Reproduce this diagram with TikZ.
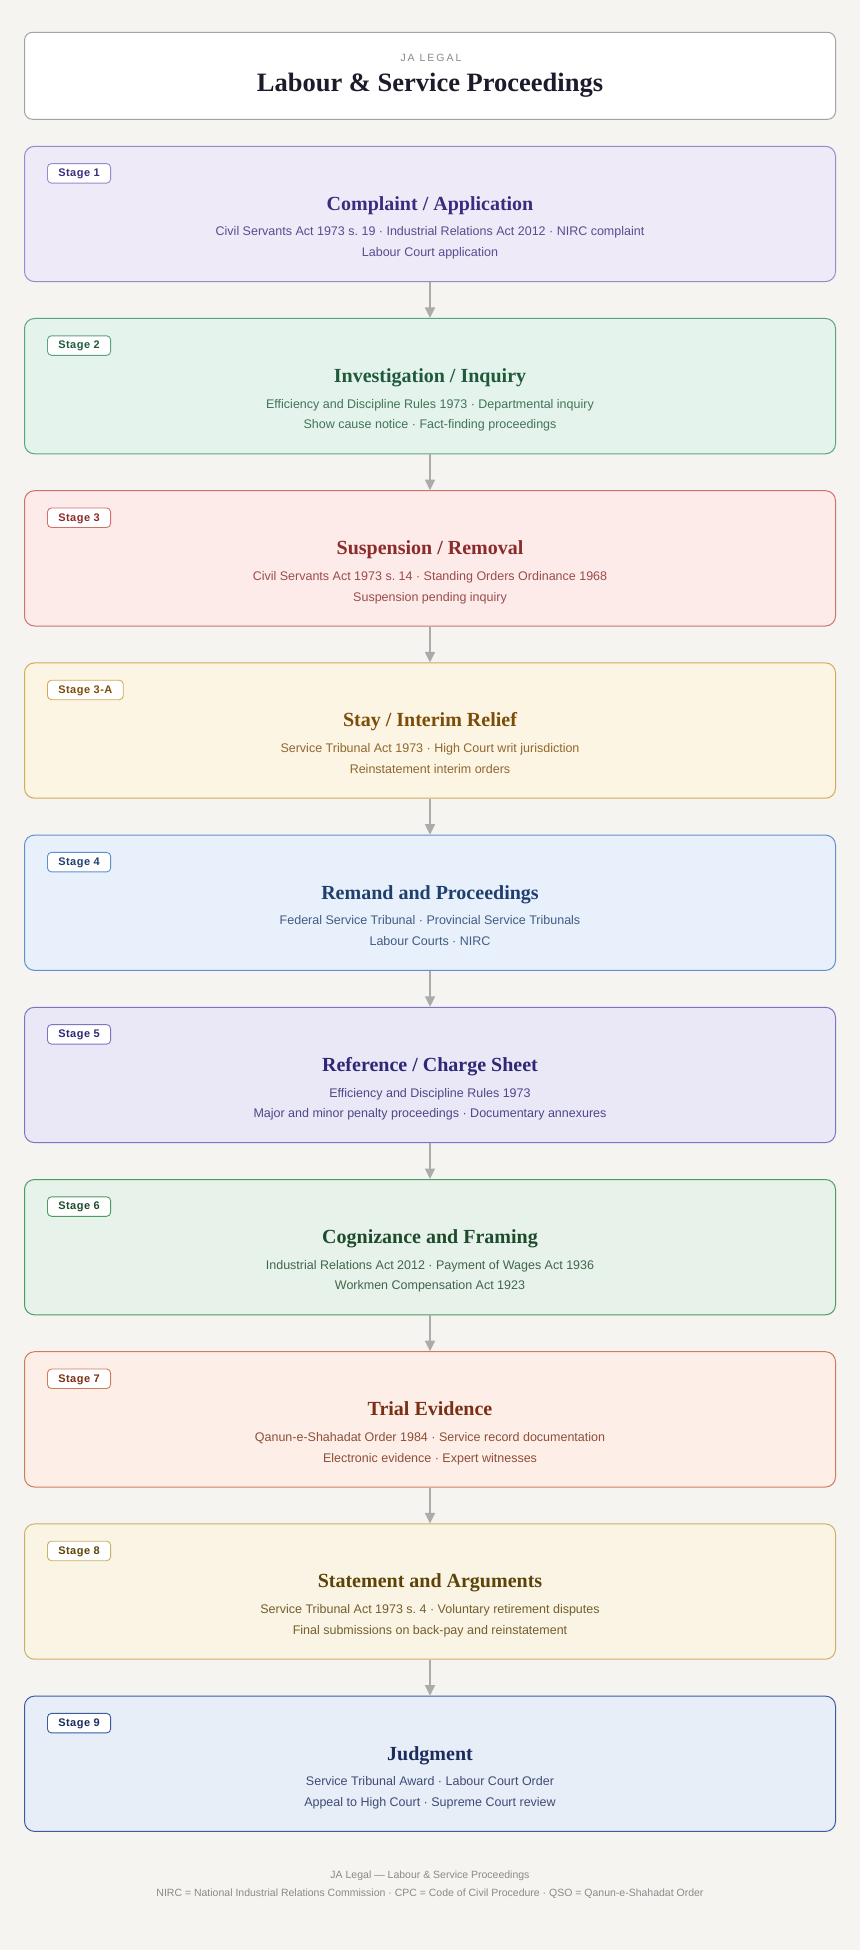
\documentclass[tikz,border=0pt]{standalone}
\usepackage{fontspec}
\setmainfont{Liberation Serif}
\setsansfont{Liberation Sans}
\usetikzlibrary{arrows.meta,positioning}
\frenchspacing

\definecolor{paper}{HTML}{F5F4F0}
\definecolor{headline}{HTML}{A3A3A3}
\definecolor{headink}{HTML}{1B1B2B}
\definecolor{muted}{HTML}{8A8A8A}
\definecolor{flowline}{HTML}{ABABAB}
% stage colours: fill, border, ink
\definecolor{fill1}{HTML}{EEEAF7}\definecolor{line1}{HTML}{968AD0}\definecolor{ink1}{HTML}{3D2C7E}
\definecolor{fill2}{HTML}{E4F3EC}\definecolor{line2}{HTML}{5AA57E}\definecolor{ink2}{HTML}{1F5B3B}
\definecolor{fill3}{HTML}{FDEBE9}\definecolor{line3}{HTML}{D2716C}\definecolor{ink3}{HTML}{8B2B2B}
\definecolor{fill4}{HTML}{FCF5E4}\definecolor{line4}{HTML}{D5AA55}\definecolor{ink4}{HTML}{7C4C08}
\definecolor{fill5}{HTML}{E8F0FB}\definecolor{line5}{HTML}{5E90D2}\definecolor{ink5}{HTML}{1F3F6E}
\definecolor{fill6}{HTML}{EAE8F6}\definecolor{line6}{HTML}{7C75C6}\definecolor{ink6}{HTML}{2D2876}
\definecolor{fill7}{HTML}{E7F2EA}\definecolor{line7}{HTML}{4D9B62}\definecolor{ink7}{HTML}{1E4B2C}
\definecolor{fill8}{HTML}{FDEFE8}\definecolor{line8}{HTML}{CE7D58}\definecolor{ink8}{HTML}{7B2F13}
\definecolor{fill9}{HTML}{FAF4E4}\definecolor{line9}{HTML}{CBB067}\definecolor{ink9}{HTML}{5D4306}
\definecolor{fill10}{HTML}{E8EEF8}\definecolor{line10}{HTML}{3A5CA3}\definecolor{ink10}{HTML}{1B2C5D}

\begin{document}
\begin{tikzpicture}[x=1pt,y=-1pt,
    stage/.style={rectangle, rounded corners=10pt, line width=1pt, minimum width=811pt, minimum height=135.3pt, inner sep=0pt},
    badge/.style={rectangle, rounded corners=4pt, fill=white, line width=0.9pt, inner xsep=10.8pt, inner ysep=4.5pt,
        text height=8.5pt, text depth=2pt, anchor=base west,
        font=\sffamily\bfseries\fontsize{11}{13}\selectfont\addfontfeatures{LetterSpace=4.5}},
    heading/.style={anchor=base, inner sep=0pt, font=\bfseries\fontsize{20}{24}\selectfont},
    detail/.style={anchor=base, inner sep=0pt, font=\sffamily\fontsize{12.5}{15}\selectfont},
    note/.style={anchor=base, inner sep=0pt, text=muted, font=\sffamily\fontsize{10.5}{13}\selectfont},
    flow/.style={draw=flowline, line width=1.6pt, -{Triangle[length=10.5pt,width=10pt]}}
]
\useasboundingbox (0,0) rectangle (860,1950);
\fill[paper] (0,0) rectangle (860,1950);

% header
\node[rectangle, rounded corners=8pt, fill=white, draw=headline, line width=1pt, minimum width=811pt, minimum height=87pt] (hdr) at (430,75.8) {};
\node[note, font=\sffamily\fontsize{10.5}{13}\selectfont\addfontfeatures{LetterSpace=19}] (hdrfirm) at (431,61.5) {JA LEGAL};
\node[anchor=base, inner sep=0pt, text=headink, font=\bfseries\fontsize{26.5}{32}\selectfont] (hdrtitle) at (430,91.5) {Labour \& Service Proceedings};

% stages
\foreach \i/\lbl/\ttl/\la/\lb [evaluate=\i as \ytop using 146.3+(\i-1)*172.2] in {
    1/{Stage 1}/{Complaint / Application}/{Civil Servants Act 1973 s. 19 · Industrial Relations Act 2012 · NIRC complaint}/{Labour Court application},
    2/{Stage 2}/{Investigation / Inquiry}/{Efficiency and Discipline Rules 1973 · Departmental inquiry}/{Show cause notice · Fact-finding proceedings},
    3/{Stage 3}/{Suspension / Removal}/{Civil Servants Act 1973 s. 14 · Standing Orders Ordinance 1968}/{Suspension pending inquiry},
    4/{Stage 3-A}/{Stay / Interim Relief}/{Service Tribunal Act 1973 · High Court writ jurisdiction}/{Reinstatement interim orders},
    5/{Stage 4}/{Remand and Proceedings}/{Federal Service Tribunal · Provincial Service Tribunals}/{Labour Courts · NIRC},
    6/{Stage 5}/{Reference / Charge Sheet}/{Efficiency and Discipline Rules 1973}/{Major and minor penalty proceedings · Documentary annexures},
    7/{Stage 6}/{Cognizance and Framing}/{Industrial Relations Act 2012 · Payment of Wages Act 1936}/{Workmen Compensation Act 1923},
    8/{Stage 7}/{Trial Evidence}/{Qanun-e-Shahadat Order 1984 · Service record documentation}/{Electronic evidence · Expert witnesses},
    9/{Stage 8}/{Statement and Arguments}/{Service Tribunal Act 1973 s. 4 · Voluntary retirement disputes}/{Final submissions on back-pay and reinstatement},
    10/{Stage 9}/{Judgment}/{Service Tribunal Award · Labour Court Order}/{Appeal to High Court · Supreme Court review}}
{
    \node[stage, draw=line\i, fill=fill\i] (s\i) at (430,\ytop+67.65) {};
    \node[badge, draw=line\i, text=ink\i] (s\i tag) at (47,\ytop+30.3) {\lbl};
    \node[heading, text=ink\i] (s\i title) at (430,\ytop+64) {\ttl};
    \node[detail, text=ink\i!85!white] (s\i a) at (430,\ytop+89.7) {\la};
    \node[detail, text=ink\i!85!white] (s\i b) at (430,\ytop+110.4) {\lb};
}

% connectors
\foreach \i [evaluate=\i as \j using int(\i+1)] in {1,...,9}
    \draw[flow] (s\i.south) -- (s\j.north);

% footer
\node[note] (foot1) at (430,1878) {JA Legal — Labour \& Service Proceedings};
\node[note] (foot2) at (430,1896) {NIRC = National Industrial Relations Commission · CPC = Code of Civil Procedure · QSO = Qanun-e-Shahadat Order};
\end{tikzpicture}
\end{document}
